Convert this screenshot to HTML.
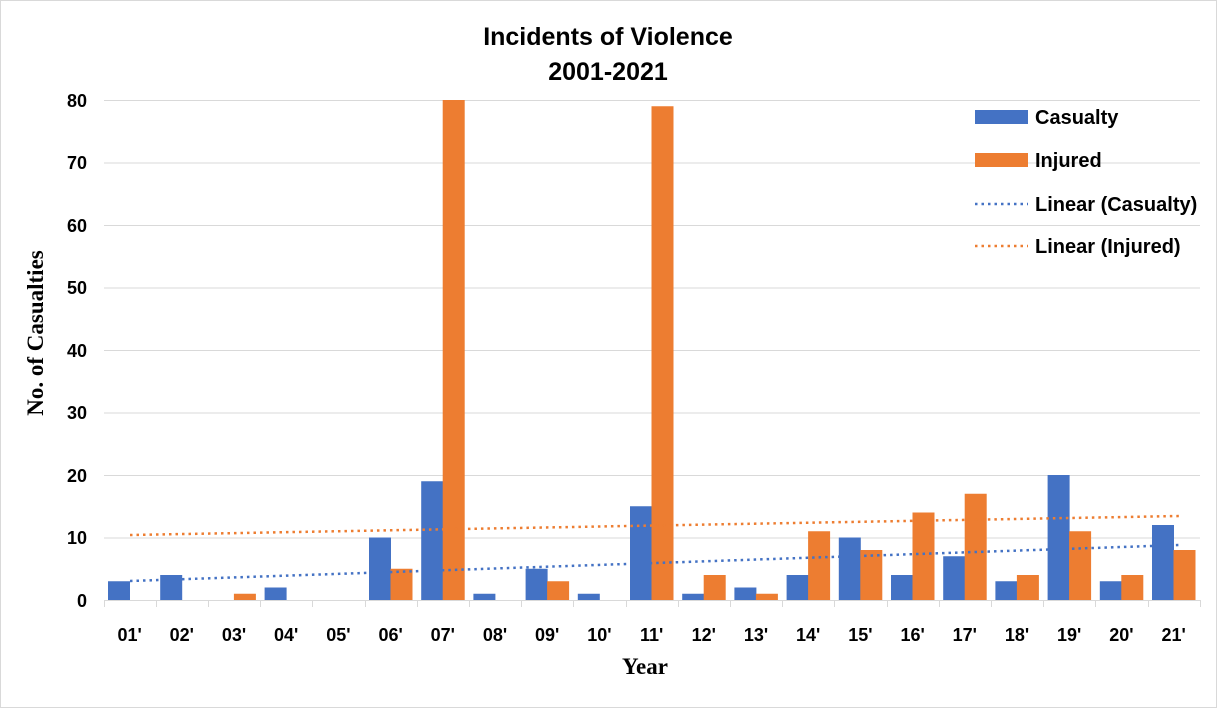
<!DOCTYPE html>
<html><head><meta charset="utf-8"><style>
html,body{margin:0;padding:0;background:#fff;}
svg{display:block;}
text{font-family:"Liberation Sans",sans-serif;}
</style></head><body>
<svg width="1217" height="708" viewBox="0 0 1217 708">
<rect x="0.5" y="0.5" width="1216" height="707" fill="#fff" stroke="#d9d9d9"/>
<text x="608" y="45" text-anchor="middle" font-size="25" font-weight="bold" fill="#000">Incidents of Violence</text>
<text x="608" y="80" text-anchor="middle" font-size="25" font-weight="bold" fill="#000">2001-2021</text>
<g stroke="#d9d9d9" stroke-width="1">
<line x1="104" x2="1200" y1="100.5" y2="100.5"/>
<line x1="104" x2="1200" y1="163" y2="163"/>
<line x1="104" x2="1200" y1="225.5" y2="225.5"/>
<line x1="104" x2="1200" y1="288" y2="288"/>
<line x1="104" x2="1200" y1="350.5" y2="350.5"/>
<line x1="104" x2="1200" y1="413" y2="413"/>
<line x1="104" x2="1200" y1="475.5" y2="475.5"/>
<line x1="104" x2="1200" y1="538" y2="538"/>
<line x1="104" x2="1200" y1="600.5" y2="600.5"/>
</g>
<g font-size="18" font-weight="bold" text-anchor="end" fill="#000">
<text x="87" y="107">80</text><text x="87" y="169">70</text><text x="87" y="232">60</text>
<text x="87" y="294">50</text><text x="87" y="357">40</text><text x="87" y="419">30</text>
<text x="87" y="482">20</text><text x="87" y="544">10</text><text x="87" y="607">0</text>
</g>
<g id="bars"></g>
<g id="ticks" stroke="#d9d9d9"></g>
<g id="labels" font-size="18" font-weight="bold" text-anchor="middle" fill="#000"></g>
<line x1="130" y1="581" x2="1180" y2="545" stroke="#4472c4" stroke-width="2.5" stroke-dasharray="2.5 4"/>
<line x1="130" y1="535" x2="1180" y2="516" stroke="#ed7d31" stroke-width="2.5" stroke-dasharray="2.5 4"/>
<text x="645" y="674" text-anchor="middle" font-size="23" font-weight="bold" style="font-family:'Liberation Serif',serif">Year</text>
<text transform="translate(43,333) rotate(-90)" text-anchor="middle" font-size="23" font-weight="bold" style="font-family:'Liberation Serif',serif">No. of Casualties</text>
<rect x="975" y="110" width="53" height="14" fill="#4472c4"/>
<text x="1035" y="124" font-size="20" font-weight="bold" fill="#000">Casualty</text>
<rect x="975" y="153" width="53" height="14" fill="#ed7d31"/>
<text x="1035" y="167" font-size="20" font-weight="bold" fill="#000">Injured</text>
<line x1="975" y1="204" x2="1028" y2="204" stroke="#4472c4" stroke-width="2.5" stroke-dasharray="2.5 4"/>
<text x="1035" y="211" font-size="20" font-weight="bold" fill="#000">Linear (Casualty)</text>
<line x1="975" y1="246" x2="1028" y2="246" stroke="#ed7d31" stroke-width="2.5" stroke-dasharray="2.5 4"/>
<text x="1035" y="253" font-size="20" font-weight="bold" fill="#000">Linear (Injured)</text>
</svg>
<script>
var c=[3,4,0,2,0,10,19,1,5,1,15,1,2,4,10,4,7,3,20,3,12];
var inj=[0,0,1,0,0,5,80,0,3,0,79,4,1,11,8,14,17,4,11,4,8];
var ns="http://www.w3.org/2000/svg",w=52.2,x0=103.5,k=6.25,y0=600;
var b=document.getElementById("bars"),t=document.getElementById("ticks"),l=document.getElementById("labels");
function el(p,n,a,txt){var e=document.createElementNS(ns,n);for(var q in a)e.setAttribute(q,a[q]);if(txt)e.textContent=txt;p.appendChild(e);}
for(var i=0;i<21;i++){var s=x0+i*w;
if(c[i])el(b,"rect",{x:s+4.5,y:y0-c[i]*k,width:22,height:c[i]*k,fill:"#4472c4"});
if(inj[i])el(b,"rect",{x:s+26,y:y0-inj[i]*k,width:22,height:inj[i]*k,fill:"#ed7d31"});
el(l,"text",{x:s+w/2,y:641},(i<9?"0":"")+(i+1)+"'");}
for(var i=0;i<=21;i++){var s=Math.round(x0+i*w)+0.5;el(t,"line",{x1:s,x2:s,y1:600,y2:607});}
</script>
</body></html>
